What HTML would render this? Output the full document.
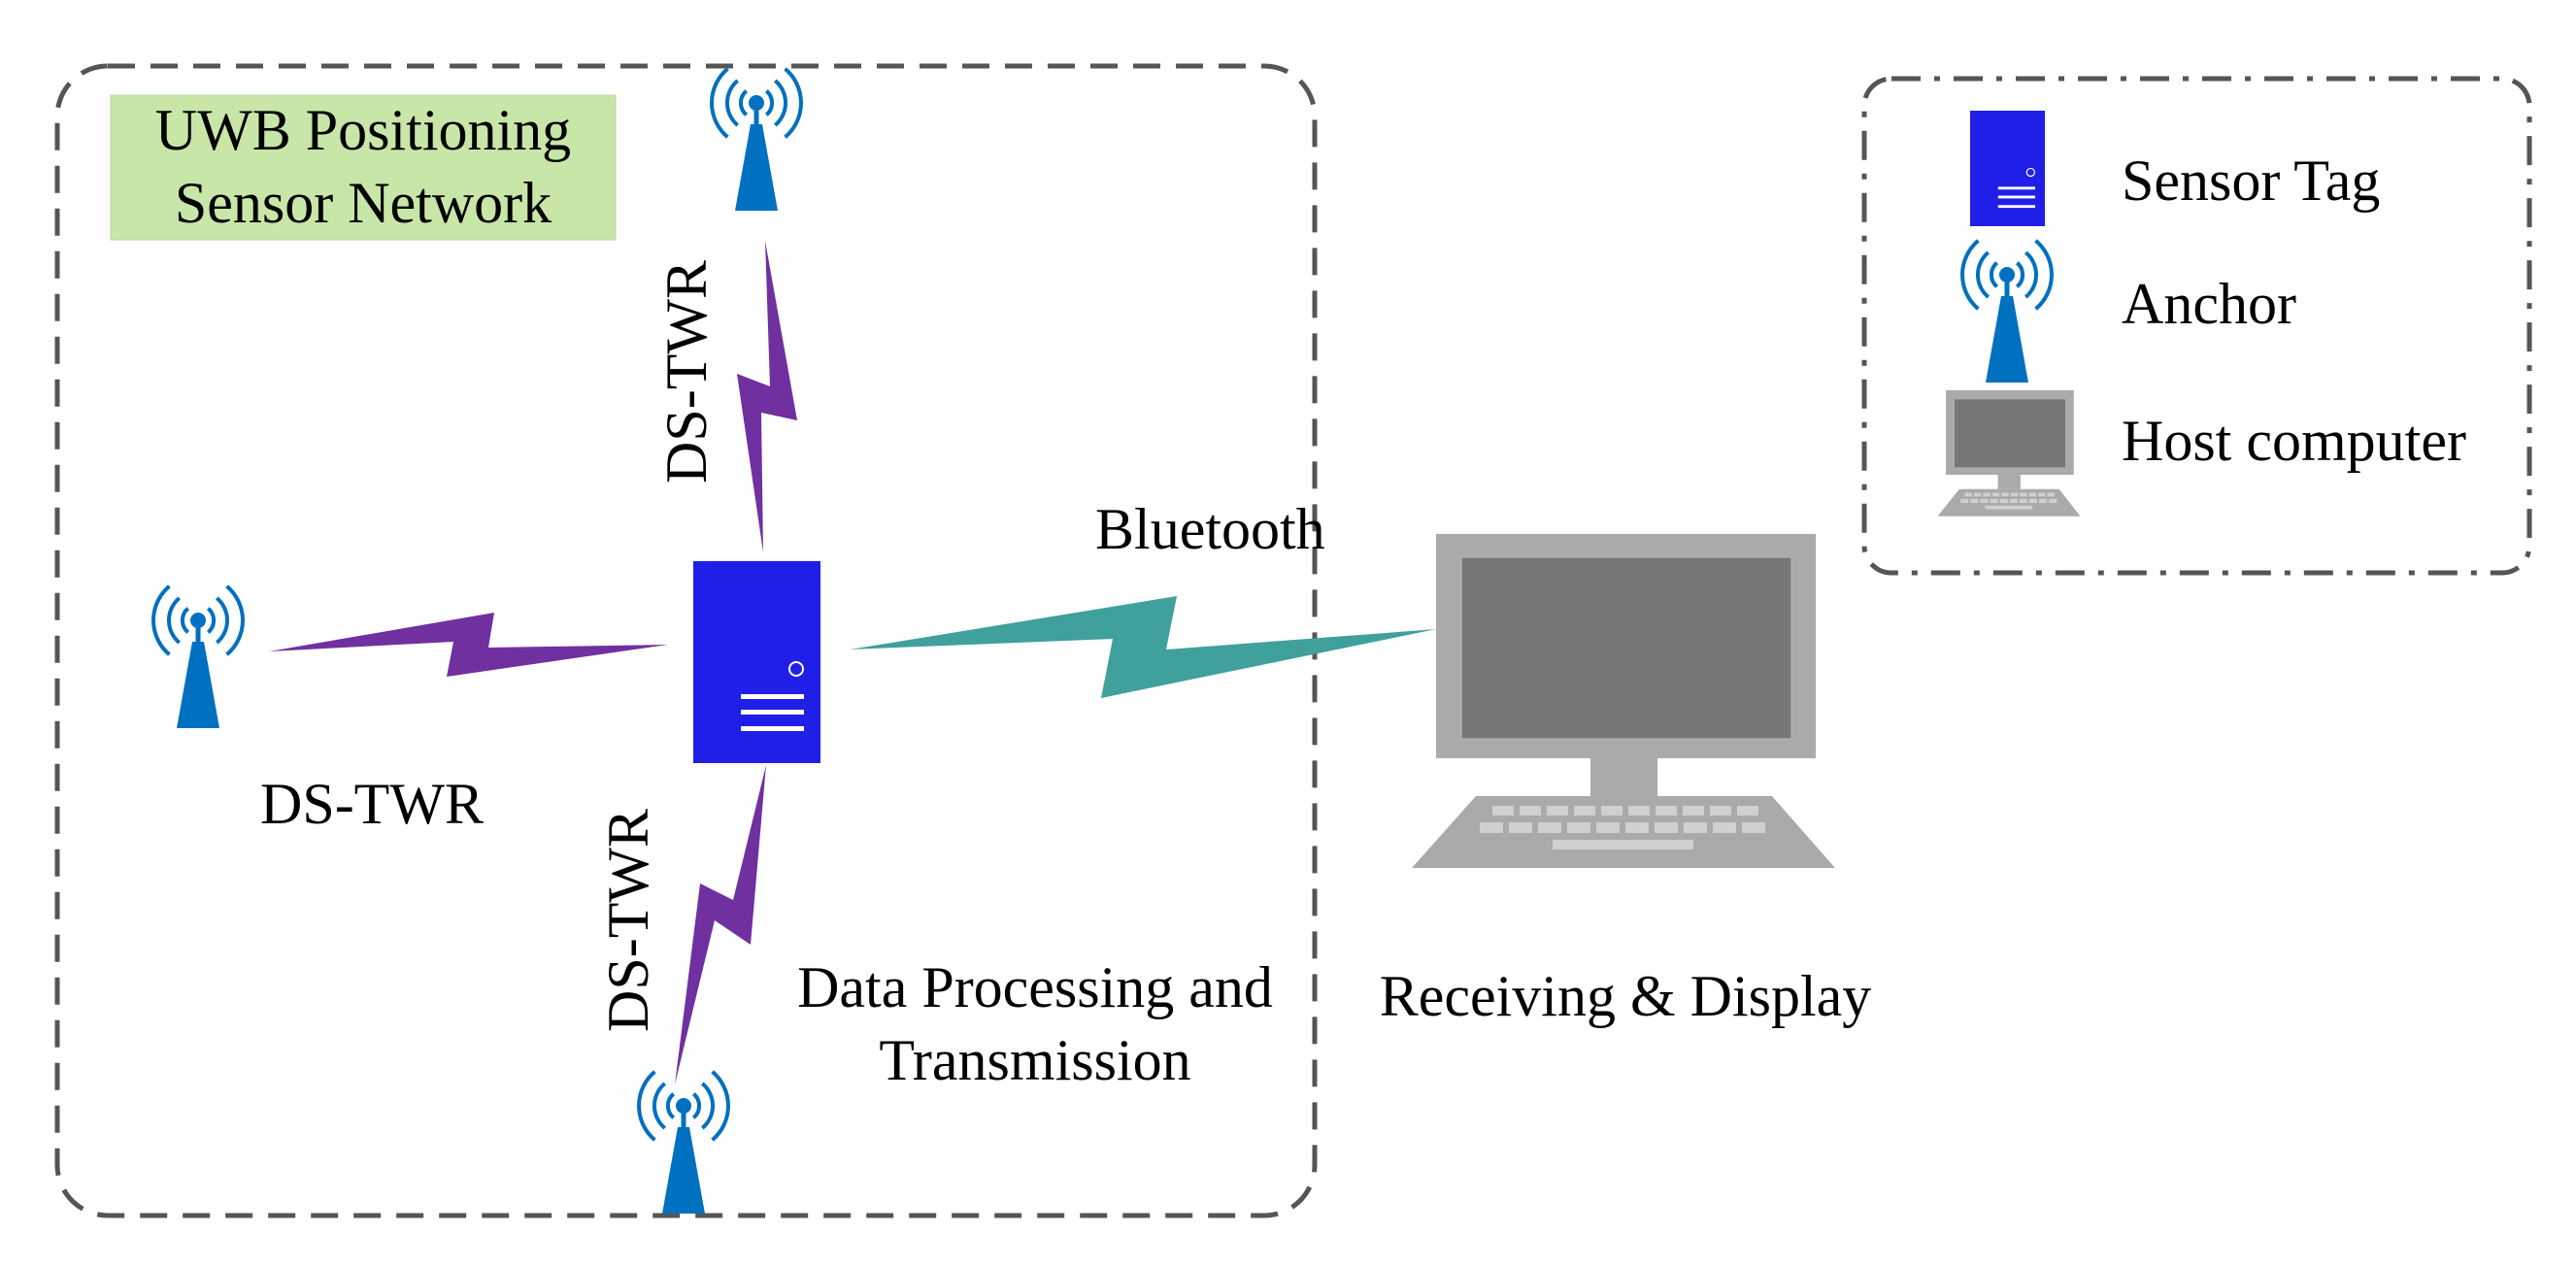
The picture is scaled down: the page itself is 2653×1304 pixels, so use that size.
<!DOCTYPE html>
<html><head><meta charset="utf-8"><style>
html,body{margin:0;padding:0;background:#fff;}
svg{display:block;}
text{font-family:"Liberation Serif",serif;fill:#000;}
</style></head><body>
<svg width="2653" height="1304" viewBox="0 0 2653 1304" xmlns="http://www.w3.org/2000/svg">
<defs>
<g id="anc">
  <g fill="none" stroke="#0070c0" stroke-width="4">
    <path d="M10.3,-12.3 A16,16 0 0 1 10.3,12.3"/>
    <path d="M-10.3,-12.3 A16,16 0 0 0 -10.3,12.3"/>
    <path d="M19.3,-23 A30,30 0 0 1 19.3,23"/>
    <path d="M-19.3,-23 A30,30 0 0 0 -19.3,23"/>
    <path d="M29.6,-35.2 A46,46 0 0 1 29.6,35.2"/>
    <path d="M-29.6,-35.2 A46,46 0 0 0 -29.6,35.2"/>
  </g>
  <circle cx="0" cy="0" r="8" fill="#0070c0"/>
  <rect x="-2.5" y="0" width="5" height="22" fill="#0070c0"/>
  <polygon points="-6,22 6,22 22,111 -22,111" fill="#0070c0"/>
</g>
<g id="tag">
  <rect x="0" y="0" width="131" height="208" fill="#1f1fe8"/>
  <circle cx="106" cy="111" r="7" fill="none" stroke="#fff" stroke-width="2"/>
  <rect x="49" y="137" width="65" height="5" fill="#fff"/>
  <rect x="49" y="153" width="65" height="5" fill="#fff"/>
  <rect x="49" y="170" width="65" height="5" fill="#fff"/>
</g>
<g id="pc">
  <rect x="0" y="0" width="391" height="231" fill="#aaaaaa"/>
  <rect x="26" y="24" width="340" height="187" fill="#777777" stroke="#bbbbbb" stroke-width="1"/>
  <rect x="159" y="231" width="69" height="39" fill="#aaaaaa"/>
  <polygon points="41,270 346,270 411,344 -25,344" fill="#aaaaaa"/>
  <g fill="#d0d0d0">
    <rect x="58" y="280" width="22" height="10"/><rect x="86" y="280" width="22" height="10"/><rect x="114" y="280" width="22" height="10"/><rect x="142" y="280" width="22" height="10"/><rect x="170" y="280" width="22" height="10"/><rect x="198" y="280" width="22" height="10"/><rect x="226" y="280" width="22" height="10"/><rect x="254" y="280" width="22" height="10"/><rect x="282" y="280" width="22" height="10"/><rect x="310" y="280" width="22" height="10"/>
    <rect x="45" y="297" width="24" height="11"/><rect x="75" y="297" width="24" height="11"/><rect x="105" y="297" width="24" height="11"/><rect x="135" y="297" width="24" height="11"/><rect x="165" y="297" width="24" height="11"/><rect x="195" y="297" width="24" height="11"/><rect x="225" y="297" width="24" height="11"/><rect x="255" y="297" width="24" height="11"/><rect x="285" y="297" width="24" height="11"/><rect x="315" y="297" width="24" height="11"/>
    <rect x="120" y="315" width="145" height="10"/>
  </g>
</g>
</defs>

<rect x="59" y="68" width="1295" height="1184" rx="52" ry="52" fill="none" stroke="#555" stroke-width="5" stroke-dasharray="28,16"/>
<rect x="1920" y="81" width="685" height="509" rx="28" ry="28" fill="none" stroke="#555" stroke-width="5" stroke-dasharray="30,14,6,14"/>

<rect x="114" y="98" width="520" height="149" fill="#c8e6a8" stroke="#b8d898" stroke-width="1"/>
<text x="374" y="154" font-size="60" text-anchor="middle">UWB Positioning</text>
<text x="374" y="229" font-size="60" text-anchor="middle">Sensor Network</text>

<g fill="#7030a0">
<polygon points="277,671 509,631 503,667 688,664 460,697 467,661"/>
<polygon points="788,248 821,433 784,425 786,569 759,385 793,398"/>
<polygon points="789,788 773,973 736,948 695,1117 721,910 755,927"/>
</g>
<polygon points="875,669 1212,614 1201,669 1479,648 1134,719 1146,658" fill="#40a09c"/>

<use href="#anc" x="779" y="106"/>
<use href="#anc" x="204" y="639"/>
<use href="#anc" x="704" y="1139"/>
<use href="#anc" x="2067" y="283"/>

<use href="#tag" x="714" y="578"/>
<g transform="translate(2029,114) scale(0.588,0.572)"><use href="#tag"/></g>

<use href="#pc" x="1479" y="550"/>
<g transform="translate(2004,402) scale(0.337,0.377)"><use href="#pc"/></g>

<text x="1128" y="565" font-size="60">Bluetooth</text>
<text x="268" y="848" font-size="60">DS-TWR</text>
<text transform="translate(727,383) rotate(-90)" font-size="60" text-anchor="middle">DS-TWR</text>
<text transform="translate(667,948) rotate(-90)" font-size="60" text-anchor="middle">DS-TWR</text>
<text x="1066" y="1037" font-size="60" text-anchor="middle">Data Processing and</text>
<text x="1066" y="1112" font-size="60" text-anchor="middle">Transmission</text>
<text x="1674" y="1046" font-size="60" text-anchor="middle">Receiving &amp; Display</text>
<text x="2185" y="206" font-size="60">Sensor Tag</text>
<text x="2185" y="333" font-size="60">Anchor</text>
<text x="2185" y="474" font-size="60">Host computer</text>
</svg>
</body></html>
